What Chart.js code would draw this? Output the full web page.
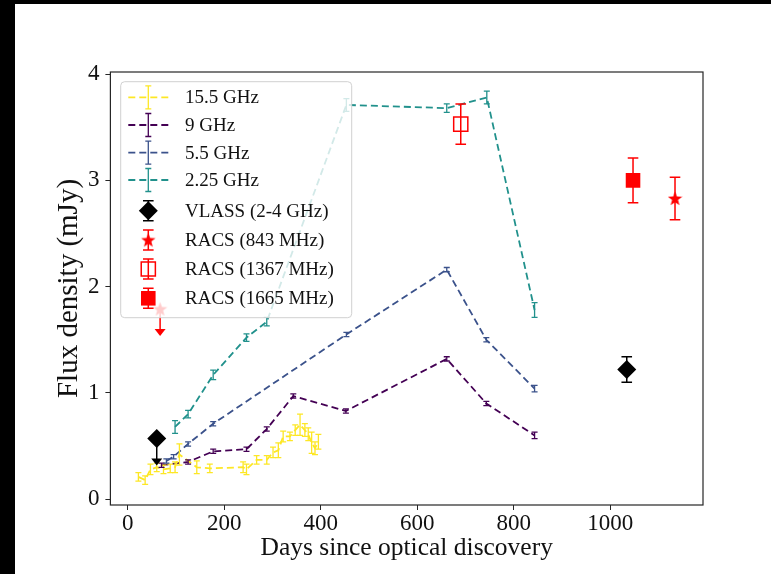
<!DOCTYPE html>
<html>
<head>
<meta charset="utf-8">
<script src="https://cdn.jsdelivr.net/npm/chart.js@4.4.1/dist/chart.umd.min.js"></script>
<style>
  html, body { margin: 0; padding: 0; background: #000; }
  #wrap { position: absolute; left: 15px; top: 4px; width: 756px; height: 570px; background: #fff; }
</style>
</head>
<body>
<div id="wrap"><canvas id="fluxChart" width="756" height="570"></canvas></div>
<script>
/* globals Chart:false */

// Tick labels
const xTicks = [0, 200, 400, 600, 800, 1000];
const yTicks = [0, 1, 2, 3, 4];

// 15.5 GHz
const days155 = [22, 36, 47, 60, 74, 88, 98, 107, 143, 170, 239, 246, 267, 288, 301, 312, 322, 336, 347, 357, 367, 374, 381, 388, 395];
const flux155 = [0.21, 0.18, 0.28, 0.30, 0.28, 0.29, 0.30, 0.42, 0.30, 0.29, 0.30, 0.28, 0.37, 0.37, 0.44, 0.46, 0.59, 0.59, 0.65, 0.70, 0.65, 0.61, 0.53, 0.48, 0.54];
const err155 = [0.04, 0.04, 0.05, 0.04, 0.04, 0.04, 0.05, 0.10, 0.06, 0.04, 0.05, 0.05, 0.04, 0.04, 0.05, 0.07, 0.05, 0.04, 0.05, 0.10, 0.06, 0.06, 0.10, 0.06, 0.07];

// 9 GHz
const days9 = [70, 125, 177, 246, 288, 343, 452, 661, 743, 843];
const flux9 = [0.32, 0.35, 0.45, 0.47, 0.66, 0.97, 0.83, 1.32, 0.90, 0.60];
const err9 = [0.02, 0.02, 0.02, 0.02, 0.02, 0.02, 0.02, 0.02, 0.02, 0.03];

// 5.5 GHz
const days55 = [80, 95, 125, 177, 453, 661, 743, 843];
const flux55 = [0.36, 0.40, 0.52, 0.71, 1.55, 2.16, 1.50, 1.04];
const err55 = [0.02, 0.02, 0.02, 0.02, 0.02, 0.02, 0.02, 0.03];

// 2.25 GHz
const days225 = [98, 125, 177, 246, 288, 453, 661, 744, 843];
const flux225 = [0.68, 0.80, 1.17, 1.52, 1.67, 3.71, 3.68, 3.78, 1.78];
const err225 = [0.06, 0.035, 0.045, 0.035, 0.04, 0.06, 0.04, 0.06, 0.07];

// VLASS (2-4 GHz)
const vlassDays = [1034];
const vlassFlux = [1.22];
const vlassErr = [0.12];
const vlassLimDays = [60];
const vlassLimFlux = [0.57];

// RACS
const racs843Days = [1134];
const racs843Flux = [2.83];
const racs843Err = [0.20];
const racs843LimDays = [67];
const racs843LimFlux = [1.79];
const racs1367Days = [690];
const racs1367Flux = [3.53];
const racs1367Err = [0.19];
const racs1665Days = [1047];
const racs1665Flux = [3.00];
const racs1665Err = [0.21];

const legendLabels = ['15.5 GHz', '9 GHz', '5.5 GHz', '2.25 GHz', 'VLASS (2-4 GHz)', 'RACS (843 MHz)', 'RACS (1367 MHz)', 'RACS (1665 MHz)'];

const FONT = "'Liberation Serif', 'DejaVu Serif', serif";
const DASH = [7, 4];
const ARROW_PX = 27;

const pts = (xs, ys) => xs.map((d, i) => ({ x: d, y: ys[i] }));

// filled five point star used as marker
function starImage(size, color) {
  const c = document.createElement('canvas');
  c.width = c.height = size;
  const g = c.getContext('2d');
  const R = size / 2, r = R * 0.42;
  g.beginPath();
  for (let k = 0; k < 10; k++) {
    const rad = k % 2 ? r : R;
    const a = -Math.PI / 2 + k * Math.PI / 5;
    g.lineTo(R + rad * Math.cos(a), R + 0.6 + rad * Math.sin(a));
  }
  g.closePath();
  g.fillStyle = color;
  g.fill();
  return c;
}
const star = starImage(15, '#ff0000');

const lineSeries = (label, xs, ys, es, color) => ({
  label, data: pts(xs, ys), err: es, barColor: color, barWidth: 1.3, cap: 3,
  borderColor: color, backgroundColor: color, borderDash: DASH, borderWidth: 1.8,
  showLine: true, pointRadius: 0, tension: 0, fill: false
});

const datasets = [
  lineSeries('15.5 GHz', days155, flux155, err155, '#fde725'),
  lineSeries('9 GHz', days9, flux9, err9, '#440154'),
  lineSeries('5.5 GHz', days55, flux55, err55, '#3b528b'),
  lineSeries('2.25 GHz', days225, flux225, err225, '#21918c'),
  { label: 'VLASS (2-4 GHz)', data: pts(vlassDays, vlassFlux), err: vlassErr, barColor: '#000', barWidth: 1.5, cap: 5.3,
    pointStyle: 'rectRot', pointRadius: 9.5, backgroundColor: '#000', borderColor: '#000', borderWidth: 0 },
  { label: 'VLASS limit', data: pts(vlassLimDays, vlassLimFlux), upperLimit: true, barColor: '#000',
    pointStyle: 'rectRot', pointRadius: 9.5, backgroundColor: '#000', borderColor: '#000', borderWidth: 0 },
  { label: 'RACS (843 MHz)', data: pts(racs843Days, racs843Flux), err: racs843Err, barColor: '#ff0000', barWidth: 1.5, cap: 5.3,
    pointStyle: star, pointRadius: 7 },
  { label: 'RACS 843 limit', data: pts(racs843LimDays, racs843LimFlux), upperLimit: true, barColor: '#ff0000',
    pointStyle: star, pointRadius: 7 },
  { label: 'RACS (1367 MHz)', data: pts(racs1367Days, racs1367Flux), err: racs1367Err, barColor: '#ff0000', barWidth: 1.5, cap: 5.3,
    pointStyle: 'rect', pointRadius: 10, backgroundColor: 'rgba(0,0,0,0)', borderColor: '#ff0000', borderWidth: 1.5 },
  { label: 'RACS (1665 MHz)', data: pts(racs1665Days, racs1665Flux), err: racs1665Err, barColor: '#ff0000', barWidth: 1.5, cap: 5.3,
    pointStyle: 'rect', pointRadius: 10.3, backgroundColor: '#ff0000', borderColor: '#ff0000', borderWidth: 0 }
];

function bar(ctx, px, top, bot, cap) {
  ctx.beginPath();
  ctx.moveTo(px, top); ctx.lineTo(px, bot);
  ctx.moveTo(px - cap, top); ctx.lineTo(px + cap, top);
  ctx.moveTo(px - cap, bot); ctx.lineTo(px + cap, bot);
  ctx.stroke();
}

function arrow(ctx, px, py, color) {
  const tip = py + ARROW_PX;
  ctx.strokeStyle = color; ctx.fillStyle = color; ctx.lineWidth = 1.5;
  ctx.beginPath(); ctx.moveTo(px, py); ctx.lineTo(px, tip - 5); ctx.stroke();
  ctx.beginPath();
  ctx.moveTo(px - 5.5, tip - 7); ctx.lineTo(px + 5.5, tip - 7); ctx.lineTo(px, tip);
  ctx.closePath(); ctx.fill();
}

// error bars and upper limit arrows
const errorBars = {
  id: 'errorBars',
  afterDatasetsDraw(chart) {
    const { ctx, scales: { x, y } } = chart;
    ctx.save();
    ctx.setLineDash([]);
    chart.data.datasets.forEach(ds => {
      ds.data.forEach((p, i) => {
        const px = x.getPixelForValue(p.x);
        if (ds.err) {
          ctx.strokeStyle = ds.barColor; ctx.lineWidth = ds.barWidth;
          bar(ctx, px, y.getPixelForValue(p.y + ds.err[i]), y.getPixelForValue(p.y - ds.err[i]), ds.cap);
        }
        if (ds.upperLimit) arrow(ctx, px, y.getPixelForValue(p.y), ds.barColor);
      });
    });
    ctx.restore();
  }
};

// axes frame and legend box drawn inside the plot
const frameLegend = {
  id: 'frameLegend',
  afterDraw(chart) {
    const { ctx, chartArea: a } = chart;
    ctx.save();
    ctx.strokeStyle = '#262626'; ctx.lineWidth = 1.2;
    ctx.strokeRect(a.left, a.top, a.right - a.left, a.bottom - a.top);

    const bx = a.left + 10.3, by = a.top + 9.7, bw = 231, bh = 236;
    ctx.beginPath();
    ctx.roundRect(bx, by, bw, bh, 4);
    ctx.fillStyle = 'rgba(255,255,255,0.8)';
    ctx.fill();
    ctx.strokeStyle = '#d0d0d0'; ctx.lineWidth = 1;
    ctx.stroke();

    const rows = [15.6, 43.3, 71, 98.3, 129, 158.3, 187.3, 216.6];
    const hx = bx + 27.6;
    const ds = chart.data.datasets;
    const entries = [ds[0], ds[1], ds[2], ds[3], ds[4], ds[6], ds[8], ds[9]];
    entries.forEach((d, k) => {
      const ry = by + rows[k];
      if (k < 4) {
        ctx.strokeStyle = d.borderColor; ctx.lineWidth = 1.8; ctx.setLineDash(DASH);
        ctx.beginPath(); ctx.moveTo(hx - 20, ry); ctx.lineTo(hx + 20, ry); ctx.stroke();
        ctx.setLineDash([]); ctx.lineWidth = 1.3;
        bar(ctx, hx, ry - 11.5, ry + 11.5, 3);
      } else {
        ctx.setLineDash([]);
        ctx.strokeStyle = d.barColor; ctx.lineWidth = 1.5;
        bar(ctx, hx, ry - 10, ry + 10, 5.3);
        if (typeof d.pointStyle !== 'string') {
          ctx.drawImage(d.pointStyle, hx - d.pointStyle.width / 2, ry - d.pointStyle.height / 2);
        } else {
          ctx.fillStyle = d.backgroundColor;
          ctx.strokeStyle = d.borderColor;
          ctx.lineWidth = d.borderWidth || 0;
          ctx.beginPath();
          if (d.pointStyle === 'rectRot') {
            const r = d.pointRadius;
            ctx.moveTo(hx, ry - r); ctx.lineTo(hx + r, ry); ctx.lineTo(hx, ry + r); ctx.lineTo(hx - r, ry);
          } else {
            const s = d.pointRadius * Math.SQRT1_2;
            ctx.rect(hx - s, ry - s, 2 * s, 2 * s);
          }
          ctx.closePath();
          ctx.fill();
          if (d.borderWidth) ctx.stroke();
        }
      }
      ctx.fillStyle = '#111';
      ctx.font = '19px ' + FONT;
      ctx.textBaseline = 'middle';
      ctx.textAlign = 'left';
      ctx.fillText(legendLabels[k], bx + 64.3, ry + 1);
    });
    ctx.restore();
  }
};

const ctx = document.getElementById('fluxChart').getContext('2d');

new Chart(ctx, {
  type: 'scatter',
  data: { datasets },
  options: {
    responsive: false,
    animation: false,
    layout: { padding: { top: 68, right: 68, left: 0, bottom: 0 } },
    plugins: { legend: { display: false }, tooltip: { enabled: false } },
    scales: {
      x: {
        type: 'linear', min: -36, max: 1192,
        afterBuildTicks: s => { s.ticks = xTicks.map(v => ({ value: v })); },
        afterFit: s => { s.height = 69; },
        ticks: { callback: v => String(v), font: { family: FONT, size: 23 }, color: '#111', padding: 0, maxRotation: 0 },
        grid: { drawOnChartArea: false, drawTicks: true, tickLength: 5, color: '#262626' },
        border: { display: false },
        title: { display: true, text: 'Days since optical discovery', font: { family: FONT, size: 25.5 }, color: '#111', padding: { top: 0, bottom: 10 } }
      },
      y: {
        type: 'linear', min: -0.055, max: 4.02,
        afterBuildTicks: s => { s.ticks = yTicks.map(v => ({ value: v })); },
        afterFit: s => { s.width = 95.4; },
        ticks: { callback: v => String(v), font: { family: FONT, size: 23 }, color: '#111', padding: 6 },
        grid: { drawOnChartArea: false, drawTicks: true, tickLength: 5, color: '#262626' },
        border: { display: false },
        title: { display: true, text: 'Flux density (mJy)', font: { family: FONT, size: 29 }, color: '#111', padding: { top: 37, bottom: 0 } }
      }
    }
  },
  plugins: [errorBars, frameLegend]
});
</script>
</body>
</html>
